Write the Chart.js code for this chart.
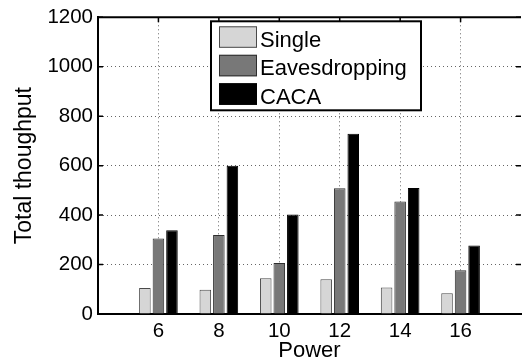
<!DOCTYPE html>
<html>
<head>
<meta charset="utf-8">
<script src="https://cdn.jsdelivr.net/npm/chart.js@4"></script>
<style>
  body { margin: 0; background: #fff; }
  #wrap { width: 526px; height: 364px; }
</style>
</head>
<body>
<div id="wrap"><canvas id="chart"></canvas></div>
<script>
// data
const powers = [6, 8, 10, 12, 14, 16];
const single = [105, 98, 145, 141, 107, 84];
const eaves = [305, 320, 206, 509, 455, 177];
const caca = [339, 600, 402, 729, 510, 277];
const seriesNames = ["Single", "Eavesdropping", "CACA"];
const yTicks = [0, 200, 400, 600, 800, 1000, 1200];

const FONT = "'Liberation Sans', Arial, Helvetica, sans-serif";

function points(values) {
    return powers.map((p, i) => ({ x: p, y: values[i] }));
}

// matlab style: inward ticks on all sides + top frame line
const frame = {
    id: "frame",
    beforeDatasetsDraw(chart) {
        const ctx = chart.ctx;
        const a = chart.chartArea;
        const xs = chart.scales.x;
        const ys = chart.scales.y;
        ctx.save();
        ctx.strokeStyle = "#000";
        ctx.lineWidth = 1.5;
        ctx.beginPath();
        powers.forEach(p => {
            const px = xs.getPixelForValue(p);
            ctx.moveTo(px, a.bottom); ctx.lineTo(px, a.bottom - 5);
            ctx.moveTo(px, a.top); ctx.lineTo(px, a.top + 5);
        });
        yTicks.forEach(v => {
            const py = ys.getPixelForValue(v);
            ctx.moveTo(a.left, py); ctx.lineTo(a.left + 5, py);
            ctx.moveTo(a.right, py); ctx.lineTo(a.right - 5, py);
        });
        ctx.stroke();
        ctx.lineWidth = 2;
        ctx.beginPath();
        ctx.moveTo(a.left - 1, a.top); ctx.lineTo(a.right, a.top);
        ctx.stroke();
        ctx.restore();
    }
};

// boxed legend inside the plot
const boxLegend = {
    id: "boxLegend",
    afterDraw(chart) {
        const ctx = chart.ctx;
        const a = chart.chartArea;
        const x0 = a.left + 113, y0 = a.top + 4;
        ctx.save();
        ctx.fillStyle = "#fff";
        ctx.fillRect(x0, y0, 210, 89);
        ctx.strokeStyle = "#000";
        ctx.lineWidth = 2;
        ctx.strokeRect(x0, y0, 210, 89);
        ctx.font = "22px " + FONT;
        ctx.textBaseline = "alphabetic";
        chart.data.datasets.forEach((ds, i) => {
            const sy = y0 + 5 + i * 28.5;
            ctx.fillStyle = ds.backgroundColor;
            ctx.fillRect(x0 + 8, sy, 38, 21.5);
            ctx.strokeStyle = ds.borderColor;
            ctx.lineWidth = 1;
            ctx.strokeRect(x0 + 8.5, sy + 0.5, 37, 20.5);
            ctx.fillStyle = "#000";
            ctx.fillText(ds.label, x0 + 49, sy + 20.5);
        });
        ctx.restore();
    }
};

const canvas = document.getElementById("chart");
new Chart(canvas, {
    type: "bar",
    data: {
        datasets: [
            { label: seriesNames[0], data: points(single), backgroundColor: "#d6d6d6", borderColor: "#4a4a4a", borderWidth: 1 },
            { label: seriesNames[1], data: points(eaves), backgroundColor: "#787878", borderColor: "#2e2e2e", borderWidth: 1 },
            { label: seriesNames[2], data: points(caca), backgroundColor: "#000000", borderColor: "#000000", borderWidth: 1 }
        ]
    },
    options: {
        responsive: true,
        maintainAspectRatio: false,
        animation: false,
        categoryPercentage: 0.672,
        barPercentage: 0.854,
        layout: { padding: { top: 15, right: 0, bottom: 0, left: 0 } },
        plugins: {
            legend: { display: false },
            tooltip: { enabled: false }
        },
        scales: {
            x: {
                type: "linear",
                offset: false,
                min: 4,
                max: 18,
                afterFit(scale) { scale.height = 50; },
                ticks: {
                    stepSize: 2,
                    padding: 5,
                    color: "#000",
                    font: { family: FONT, size: 20.5 },
                    callback: v => (v === 4 || v === 18) ? "" : String(v)
                },
                grid: {
                    offset: false,
                    drawTicks: false,
                    lineWidth: 1,
                    color: c => (c.tick && (c.tick.value === 4 || c.tick.value === 18)) ? "rgba(0,0,0,0)" : "#666"
                },
                border: { display: true, color: "#000", width: 2, dash: [1, 3] },
                title: {
                    display: true,
                    text: "Power",
                    color: "#000",
                    font: { family: FONT, size: 22 },
                    padding: { top: 0, bottom: 0 }
                }
            },
            y: {
                min: 0,
                max: 1200,
                afterFit(scale) { scale.width = 98; },
                ticks: {
                    stepSize: 200,
                    padding: 5,
                    color: "#000",
                    font: { family: FONT, size: 20.5 },
                    callback: v => String(v)
                },
                grid: {
                    drawTicks: false,
                    lineWidth: 1,
                    color: c => (c.tick && (c.tick.value === 0 || c.tick.value === 1200)) ? "rgba(0,0,0,0)" : "#666"
                },
                border: { display: true, color: "#000", width: 2, dash: [1, 3] },
                title: {
                    display: true,
                    text: "Total thoughput",
                    color: "#000",
                    font: { family: FONT, size: 23 },
                    padding: { top: 11, bottom: 0 }
                }
            }
        }
    },
    plugins: [frame, boxLegend]
});
</script>
</body>
</html>
